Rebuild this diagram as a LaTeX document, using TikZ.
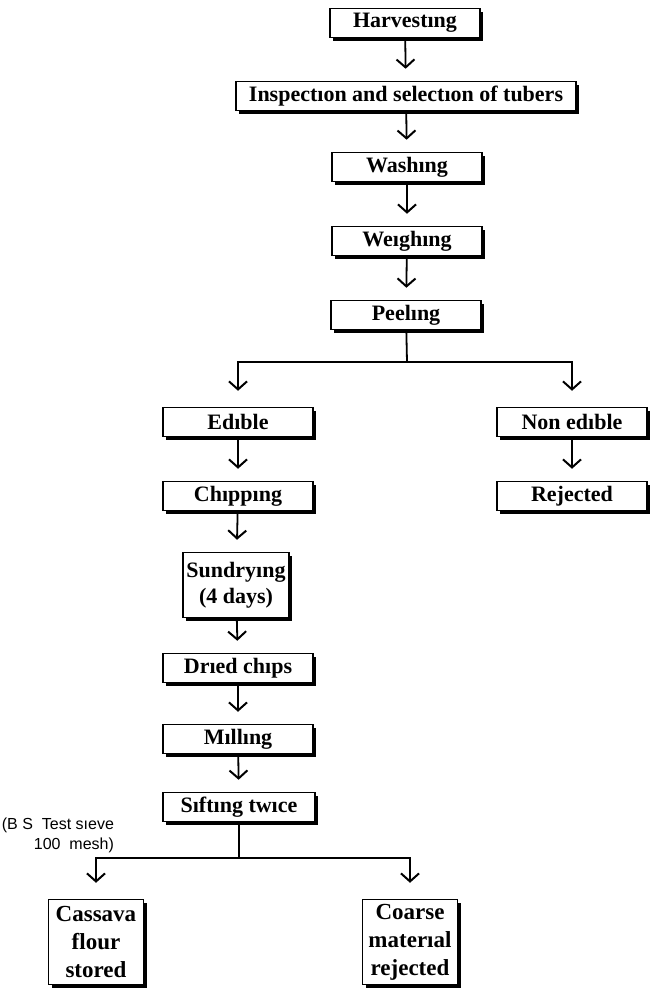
\documentclass[tikz,border=0pt]{standalone}
\usepackage{fontspec}
\setmainfont{Liberation Serif}
\newfontfamily\notefont{Liberation Sans}
\usetikzlibrary{arrows.meta,positioning,shadows}

\begin{document}
\begin{tikzpicture}[x=0.5pt,y=-0.5pt,
    arr/.style={-{Straight Barb[length=4pt,width=9pt,line width=1pt]},line width=0.9pt,shorten >=6pt},
    link/.style={line width=0.9pt},
    stepbox/.style={draw,line width=0.75pt,fill=white,minimum width=75pt,minimum height=14.5pt,
      inner sep=1pt,align=center,font=\fontsize{11}{13}\selectfont\bfseries,
      drop shadow={shadow xshift=1.6pt,shadow yshift=-1.6pt,fill=black,opacity=1}},
    endbox/.style={stepbox,minimum width=47.5pt,minimum height=42.5pt,font=\fontsize{11.5}{14}\selectfont\bfseries}]
  \useasboundingbox (0,0) rectangle (653,989);
  % main column
  \node[stepbox] (harv) at (405,23) {Harvestıng};
  \node[stepbox,minimum width=170pt] (insp) at (406,96) {Inspectıon and selectıon of tubers};
  \node[stepbox] (wash) at (407,167) {Washıng};
  \node[stepbox] (weigh) at (407,241) {Weıghıng};
  \node[stepbox] (peel) at (406,315) {Peelıng};
  \draw[arr] (harv) -- (insp);
  \draw[arr] (insp) -- (wash);
  \draw[arr] (wash) -- (weigh);
  \draw[arr] (weigh) -- (peel);
  % split after peeling
  \coordinate (split1) at (407,362);
  \node[stepbox] (edible) at (238,422) {Edıble};
  \node[stepbox] (nonedible) at (572,422) {Non edıble};
  \node[stepbox] (rej) at (572,496) {Rejected};
  \draw[link] (peel) -- (split1);
  \draw[arr,shorten >=8pt] (split1) -| (edible);
  \draw[arr,shorten >=8pt] (split1) -| (nonedible);
  \draw[arr] (nonedible) -- (rej);
  % edible branch
  \node[stepbox] (chip) at (238,496) {Chıppıng};
  \node[stepbox,minimum width=53pt,minimum height=32.5pt] (sun) at (236,585) {Sundryıng\\(4 days)};
  \node[stepbox] (dried) at (238,668) {Drıed chıps};
  \node[stepbox] (mill) at (238,739) {Mıllıng};
  \node[stepbox,minimum width=76pt] (sift) at (239,807) {Sıftıng twıce};
  \draw[arr] (edible) -- (chip);
  \draw[arr] (chip) -- (sun);
  \draw[arr] (sun) -- (dried);
  \draw[arr] (dried) -- (mill);
  \draw[arr] (mill) -- (sift);
  \node[anchor=east,align=right,font=\notefont\fontsize{8}{10}\selectfont] (sieve) at (121,835)
    {(B S\ \ Test sıeve\\100\ \ mesh)};
  % split after sifting
  \coordinate (split2) at (239,858);
  \node[endbox] (flour) at (96,942) {Cassava\\flour\\stored};
  \node[endbox] (coarse) at (410,942) {Coarse\\materıal\\rejected};
  \draw[link] (sift) -- (split2);
  \draw[arr,shorten >=8pt] (split2) -| (flour);
  \draw[arr,shorten >=8pt] (split2) -| (coarse);
\end{tikzpicture}
\end{document}
